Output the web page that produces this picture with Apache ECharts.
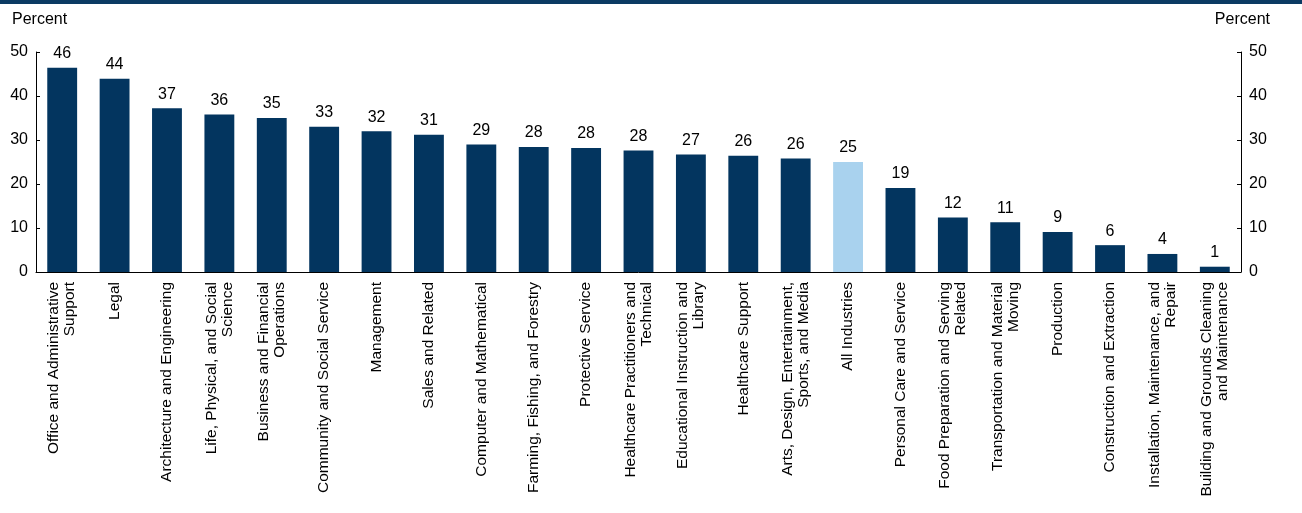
<!DOCTYPE html><html><head><meta charset="utf-8"><script src="https://cdn.jsdelivr.net/npm/echarts@6/dist/echarts.min.js"></script>
<style>body{margin:0}#c{width:1302px;height:513px}</style></head><body><div id="c"></div><script>
const categories=["Office and Administrative\nSupport","Legal","Architecture and Engineering","Life, Physical, and Social\nScience","Business and Financial\nOperations","Community and Social Service","Management","Sales and Related","Computer and Mathematical","Farming, Fishing, and Forestry","Protective Service","Healthcare Practitioners and\nTechnical","Educational Instruction and\nLibrary","Healthcare Support","Arts, Design, Entertainment,\nSports, and Media","All Industries","Personal Care and Service","Food Preparation and Serving\nRelated","Transportation and Material\nMoving","Production","Construction and Extraction","Installation, Maintenance, and\nRepair","Building and Grounds Cleaning\nand Maintenance"];
const values=[46.4,43.9,37.2,35.8,35,33,32,31.2,29,28.4,28.2,27.6,26.7,26.4,25.8,25,19.1,12.4,11.3,9.1,6.1,4.1,1.2];
const highlight="All Industries";
const yTicks={min:0,max:50,interval:10};
const ax={type:'value',min:yTicks.min,max:yTicks.max,interval:yTicks.interval,axisLine:{show:true,lineStyle:{color:'#000'}},axisTick:{show:true,inside:true,length:4,lineStyle:{color:'#000'}},splitLine:{show:false},axisLabel:{color:'#000',fontSize:16,fontFamily:'Liberation Sans'}};
const chart=echarts.init(document.getElementById('c'));
chart.setOption({animation:false,
graphic:[{type:'rect',shape:{x:0,y:0,width:1302,height:4},style:{fill:'#0b3a63'}},
{type:'text',left:12,top:12,style:{text:'Percent',font:'16px Liberation Sans',fill:'#000'}},
{type:'text',right:32,top:12,style:{text:'Percent',font:'16px Liberation Sans',fill:'#000'}}],
grid:{left:36,right:61,top:52,bottom:241},
xAxis:{type:'category',data:categories,axisLine:{lineStyle:{color:'#000'}},axisTick:{show:false},axisLabel:{rotate:90,interval:0,color:'#000',fontSize:15.5,fontFamily:'Liberation Sans',align:'right',lineHeight:16,margin:10}},
yAxis:[Object.assign({position:'left'},ax),Object.assign({position:'right'},ax)],
series:[{type:'bar',barWidth:'57%',data:values.map((v,i)=>({value:v,itemStyle:{color:categories[i]===highlight?'#a9d2ee':'#03355f'}})),
label:{show:true,position:'top',distance:6,color:'#000',fontSize:16,fontFamily:'Liberation Sans',formatter:p=>Math.round(p.value)}}]});
</script></body></html>
